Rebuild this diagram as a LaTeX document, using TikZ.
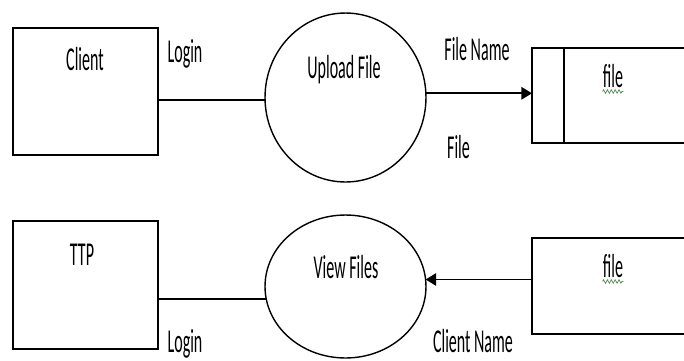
\documentclass[tikz,border=0pt]{standalone}
\usepackage{fontspec}
\setmainfont{Carlito}
\usetikzlibrary{arrows.meta,decorations.pathmorphing,shapes.geometric}
\definecolor{spellgreen}{RGB}{80,140,80}
\newcommand{\sqz}[1]{\scalebox{0.48}[1]{#1}}

\begin{document}
\begin{tikzpicture}[x=0.02cm,y=-0.02cm,
    entity/.style={draw,line width=1.1pt,minimum width=2.9cm,minimum height=2.55cm,inner sep=0pt,outer sep=0pt},
    process/.style={draw,ellipse,line width=0.8pt,minimum width=3.22cm,inner sep=0pt,outer sep=0pt},
    storebox/.style={minimum width=3.04cm,inner sep=0pt,outer sep=0pt},
    lbl/.style={font=\fontsize{19}{22}\selectfont,inner sep=0pt,anchor=base},
    flow/.style={line width=1.1pt,-{Triangle[length=6pt,width=7pt]}},
    link/.style={line width=1.1pt},
    spell/.style={spellgreen,line width=0.4pt,decorate,decoration={zigzag,segment length=2.2pt,amplitude=1pt}}]
    \useasboundingbox (0,0) rectangle (684,360);

    % top row
    \node[entity] (client) at (85.5,91.5) {};
    \node[process,minimum height=3.38cm] (upload) at (345.5,97.5) {};
    \node[storebox,minimum height=1.9cm] (store1) at (608,95.5) {};
    \draw[link] (store1.north east) -- (store1.north west) -- (store1.south west) -- (store1.south east);
    \draw[line width=0.7pt] ([xshift=0.64cm]store1.north west) -- ([xshift=0.64cm]store1.south west);

    \node[lbl] (clientlbl) at (85,70) {\sqz{Client}};
    \node[lbl] (uploadlbl) at (344,78) {\sqz{Upload File}};
    \node[lbl] (filelbl1) at (613,87) {\sqz{file}};
    \draw[spell] ([yshift=-0.09cm]filelbl1.base west) -- ([yshift=-0.09cm]filelbl1.base east);

    \draw[link] (client.east |- upload.182) -- (upload.182);
    \draw[flow] (upload.3) -- (upload.3 -| store1.west);
    \node[lbl] (login1) at (185,62) {\sqz{Login}};
    \node[lbl] (fname) at (477,60) {\sqz{File Name}};
    \node[lbl] (filedata) at (458.5,158) {\sqz{File}};

    % bottom row
    \node[entity] (ttp) at (85.5,285) {};
    \node[process,minimum height=2.86cm] (view) at (345.5,286.5) {};
    \node[storebox,minimum height=1.92cm] (store2) at (608,286) {};
    \draw[link] (store2.north east) -- (store2.north west) -- (store2.south west) -- (store2.south east);

    \node[lbl] (ttplbl) at (82,265) {\sqz{TTP}};
    \node[lbl] (viewlbl) at (346,278) {\sqz{View Files}};
    \node[lbl] (filelbl2) at (613,277) {\sqz{file}};
    \draw[spell] ([yshift=-0.09cm]filelbl2.base west) -- ([yshift=-0.09cm]filelbl2.base east);

    \draw[link] (ttp.east |- view.189) -- (view.189);
    \draw[flow] (store2.west |- view.5) -- (view.5);
    \node[lbl] (login2) at (185,352) {\sqz{Login}};
    \node[lbl] (cname) at (473,352) {\sqz{Client Name}};
\end{tikzpicture}
\end{document}
